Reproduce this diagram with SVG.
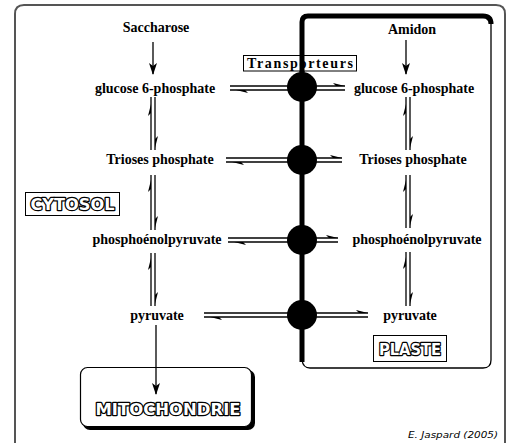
<svg xmlns="http://www.w3.org/2000/svg" width="511" height="443" viewBox="0 0 511 443">
<defs>
<style>
.t{font-family:"Liberation Serif","Times New Roman",serif;font-weight:bold;font-size:14px;fill:#000;text-anchor:middle}
.o{font-family:"DejaVu Sans","Liberation Sans",sans-serif;font-weight:bold;fill:#fff;stroke:#000;stroke-width:2.4;paint-order:stroke;stroke-linejoin:round;text-anchor:middle}
.ln{stroke:#000;stroke-width:1.3;fill:none}
.h{fill:#000}
</style>
<marker id="ah" markerWidth="12" markerHeight="8" refX="11" refY="4" orient="auto" markerUnits="userSpaceOnUse" viewBox="0 0 12 8">
<path d="M0,0 L12,4 L0,8 L3,4 Z" fill="#000"/>
</marker>
</defs>
<rect width="511" height="443" fill="#fff"/>
<!-- outer frame -->
<path d="M15,450 V14 Q15,5 24,5 H496 Q505,5 505,14 V450" fill="none" stroke="#555" stroke-width="2"/>

<!-- plaste membrane -->
<g id="plaste">
<path d="M491,24 V360 Q491,368 483,368 H310 Q303,368 302,360" fill="none" stroke="#000" stroke-width="1.3"/>
<path d="M302,362 V22 Q302,16 308,16 H483 Q491,16 491,24" fill="none" stroke="#000" stroke-width="5"/>
</g>

<g id="transporteurs">
<rect x="243.5" y="55.5" width="113" height="15.5" fill="#fff" stroke="#000" stroke-width="1"/>
<text class="t" x="300" y="68" font-size="13" textLength="106" lengthAdjust="spacing">Transporteurs</text>
</g>
<path d="M302,55 V72" stroke="#000" stroke-width="5"/>

<g id="connectors">
<!-- Saccharose -> G6P -->
<line class="ln" x1="153" y1="42" x2="153" y2="74" marker-end="url(#ah)"/>
<line class="ln" x1="406" y1="40" x2="406" y2="74" marker-end="url(#ah)"/>
<!-- pyruvate -> mitochondrie -->
<line class="ln" x1="156" y1="325" x2="156" y2="394" marker-end="url(#ah)"/>

<!-- vertical reversible, left column -->
<g>
<line class="ln" x1="151" y1="97" x2="151" y2="150"/><path class="h" d="M151,104 L148,116 L151,113 Z"/>
<line class="ln" x1="155" y1="97" x2="155" y2="150"/><path class="h" d="M155,148 L158,136 L155,139 Z"/>
</g>
<g>
<line class="ln" x1="151" y1="175" x2="151" y2="230"/><path class="h" d="M151,180 L148,192 L151,189 Z"/>
<line class="ln" x1="155" y1="175" x2="155" y2="230"/><path class="h" d="M155,228 L158,216 L155,219 Z"/>
</g>
<g>
<line class="ln" x1="151" y1="253" x2="151" y2="306"/><path class="h" d="M151,258 L148,270 L151,267 Z"/>
<line class="ln" x1="155" y1="253" x2="155" y2="306"/><path class="h" d="M155,304 L158,292 L155,295 Z"/>
</g>
<!-- vertical reversible, right column -->
<g>
<line class="ln" x1="406" y1="97" x2="406" y2="150"/><path class="h" d="M406,104 L403,116 L406,113 Z"/>
<line class="ln" x1="410" y1="97" x2="410" y2="150"/><path class="h" d="M410,148 L413,136 L410,139 Z"/>
</g>
<g>
<line class="ln" x1="406" y1="175" x2="406" y2="228"/><path class="h" d="M406,180 L403,192 L406,189 Z"/>
<line class="ln" x1="410" y1="175" x2="410" y2="228"/><path class="h" d="M410,226 L413,214 L410,217 Z"/>
</g>
<g>
<line class="ln" x1="406" y1="252" x2="406" y2="306"/><path class="h" d="M406,257 L403,269 L406,266 Z"/>
<line class="ln" x1="410" y1="252" x2="410" y2="306"/><path class="h" d="M410,304 L413,292 L410,295 Z"/>
</g>

<!-- horizontal reversible -->
<g>
<line class="ln" x1="230" y1="86" x2="345" y2="86"/><path class="h" d="M345,86 L333,83 L336,86 Z"/>
<line class="ln" x1="230" y1="90" x2="345" y2="90"/><path class="h" d="M236,90 L248,93 L245,90 Z"/>
</g>
<g>
<line class="ln" x1="226" y1="158" x2="342" y2="158"/><path class="h" d="M342,158 L330,155 L333,158 Z"/>
<line class="ln" x1="226" y1="162" x2="342" y2="162"/><path class="h" d="M232,162 L244,165 L241,162 Z"/>
</g>
<g>
<line class="ln" x1="228" y1="238" x2="338" y2="238"/><path class="h" d="M338,238 L326,235 L329,238 Z"/>
<line class="ln" x1="228" y1="242" x2="338" y2="242"/><path class="h" d="M234,242 L246,245 L243,242 Z"/>
</g>
<g>
<line class="ln" x1="204" y1="313" x2="368" y2="313"/><path class="h" d="M368,313 L356,310 L359,313 Z"/>
<line class="ln" x1="204" y1="317" x2="368" y2="317"/><path class="h" d="M210,317 L222,320 L219,317 Z"/>
</g>
</g>

<!-- transporter circles -->
<g id="circles">
<circle cx="302" cy="87" r="15" fill="#000"/>
<circle cx="302" cy="160" r="15" fill="#000"/>
<circle cx="302" cy="240" r="15" fill="#000"/>
<circle cx="302" cy="315" r="15" fill="#000"/>
</g>

<g id="n-saccharose"><text class="t" x="156" y="32">Saccharose</text></g>
<g id="n-amidon"><text class="t" x="412" y="34">Amidon</text></g>
<g id="n-g6p-cyto"><text class="t" x="155" y="93">glucose 6-phosphate</text></g>
<g id="n-g6p-plaste"><text class="t" x="414" y="93">glucose 6-phosphate</text></g>
<g id="n-tp-cyto"><text class="t" x="160" y="164">Trioses phosphate</text></g>
<g id="n-tp-plaste"><text class="t" x="413" y="164">Trioses phosphate</text></g>
<g id="n-pep-cyto"><text class="t" x="157" y="244">phosphoénolpyruvate</text></g>
<g id="n-pep-plaste"><text class="t" x="417" y="244">phosphoénolpyruvate</text></g>
<g id="n-pyr-cyto"><text class="t" x="157" y="320">pyruvate</text></g>
<g id="n-pyr-plaste"><text class="t" x="410" y="320">pyruvate</text></g>

<g id="cytosol">
<rect x="25.5" y="192.5" width="94" height="23" fill="#fff" stroke="#000" stroke-width="1"/>
<text class="o" x="72.5" y="210" font-size="15" textLength="84" lengthAdjust="spacingAndGlyphs">CYTOSOL</text>
</g>

<g id="plaste-label">
<rect x="373.5" y="335.5" width="73" height="26" fill="#fff" stroke="#000" stroke-width="1"/>
<text class="o" x="410" y="355" font-size="15" textLength="62" lengthAdjust="spacingAndGlyphs">PLASTE</text>
</g>

<g id="mitochondrie">
<rect x="83" y="370" width="172" height="60" rx="7" fill="#000"/>
<rect x="80.5" y="367.5" width="171" height="59" rx="7" fill="#fff" stroke="#000" stroke-width="1.2"/>
<text class="o" x="168" y="415" font-size="15" textLength="145" lengthAdjust="spacingAndGlyphs">MITOCHONDRIE</text>
</g>
<line class="ln" x1="156" y1="367" x2="156" y2="394" marker-end="url(#ah)"/>

<text x="498" y="438" font-family="'DejaVu Sans','Liberation Sans',sans-serif" font-style="italic" font-size="9.5" text-anchor="end" textLength="90" lengthAdjust="spacingAndGlyphs">E. Jaspard (2005)</text>
</svg>
